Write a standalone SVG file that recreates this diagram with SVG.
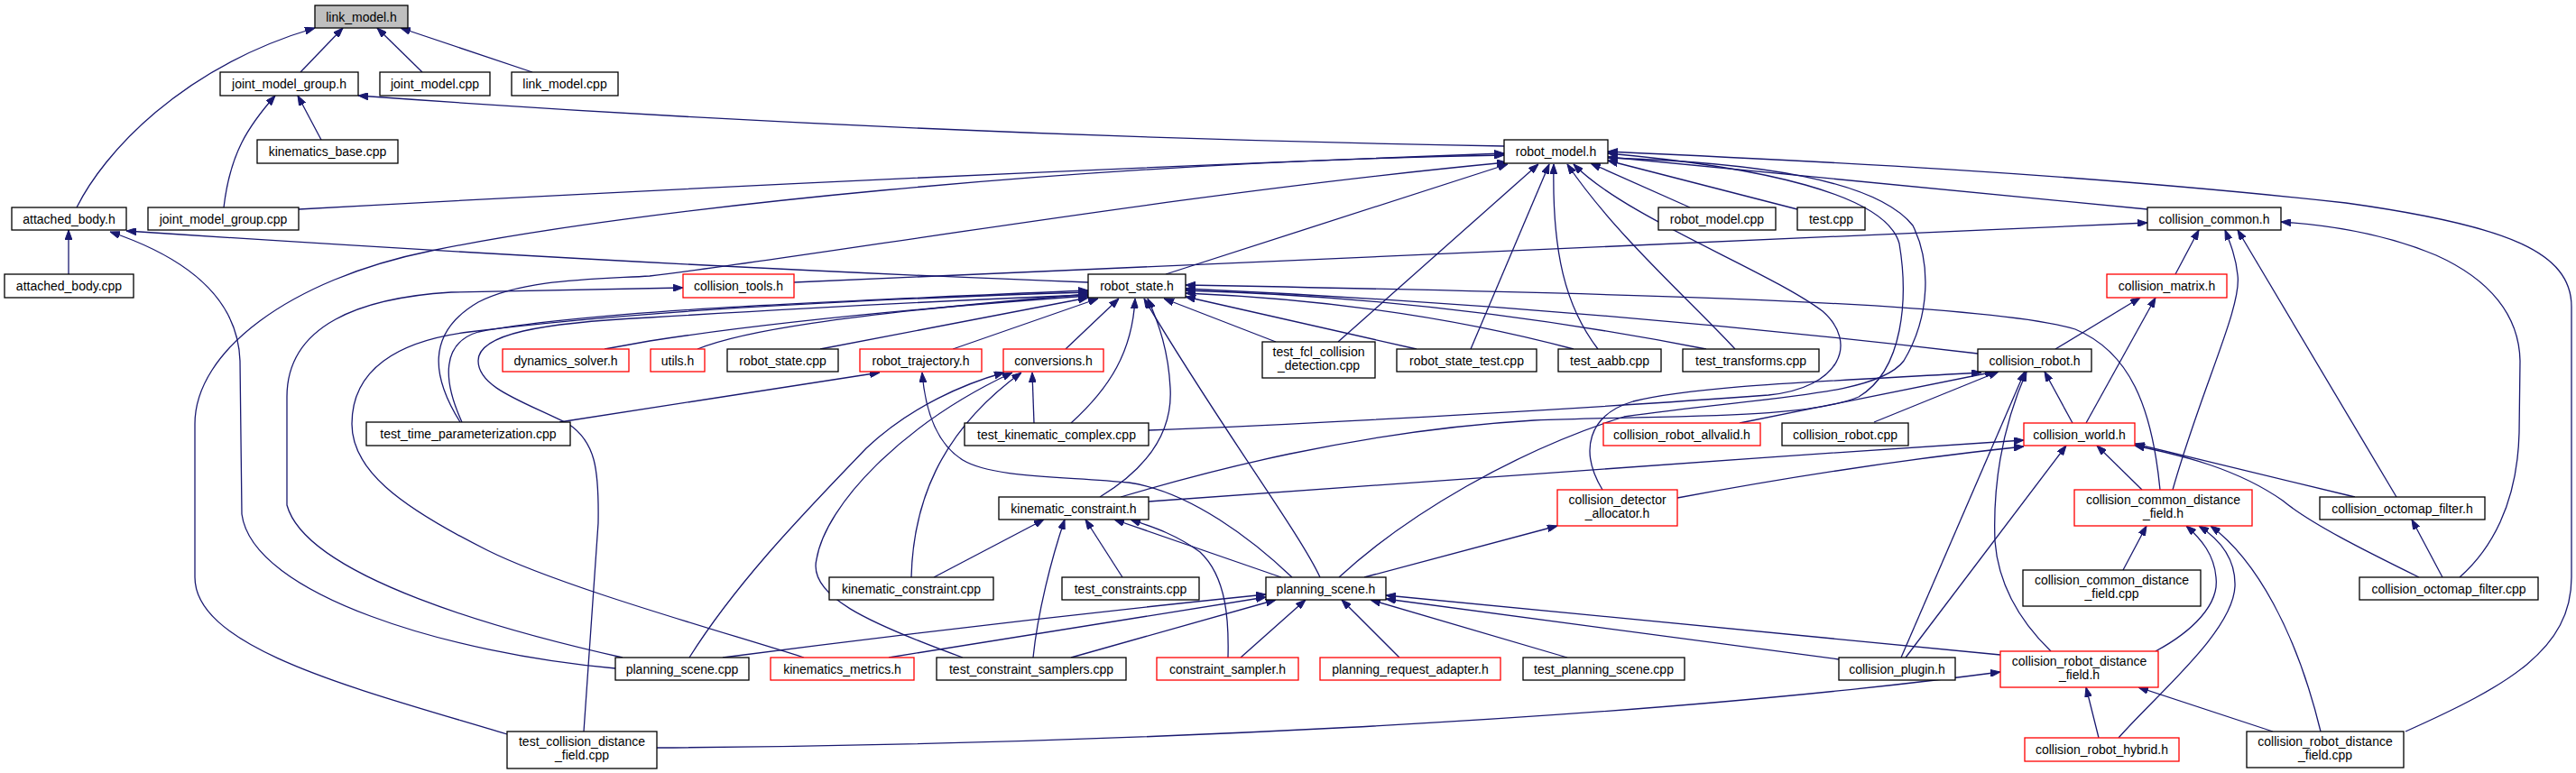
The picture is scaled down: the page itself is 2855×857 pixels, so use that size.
<svg xmlns="http://www.w3.org/2000/svg" width="2855" height="857" viewBox="0 0 2855 857">
<style>
.n rect{fill:#fff;stroke:#000;stroke-width:1.3}
.n.r rect{stroke:#ff0000}
.n.g rect{fill:#bfbfbf}
text{font-family:"Liberation Sans",Arial,sans-serif;font-size:14px;text-anchor:middle;fill:#000}
.e path{fill:none;stroke:#191970;stroke-width:1.3;marker-end:url(#a)}
</style>
<defs>
<marker id="a" viewBox="0 0 11 8" refX="11" refY="4" markerWidth="11" markerHeight="8" markerUnits="userSpaceOnUse" orient="auto" preserveAspectRatio="none"><path d="M0,0 L11,4 L0,8 z" fill="#191970" stroke="#191970" stroke-width="1"/></marker>
</defs>
<rect width="2855" height="857" fill="#fff"/>
<g id="edges" class="e">
<path d="M333,80 L380,31"/>
<path d="M468,80 L418,31"/>
<path d="M590,80 L444,31"/>
<path d="M85,230 C115,170 200,75 349,31"/>
<path d="M356,155 L330,106"/>
<path d="M248,230 C255,170 275,140 305,106"/>
<path d="M1667,162 Q1000,150 397,106"/>
<path d="M76,304 L76,255"/>
<path d="M1206,313 Q727,295 140,256"/>
<path d="M682,741 C500,725 280,660 268,570 L266,400 C264,340 220,290 122,257"/>
<path d="M331,232 Q1000,195 1667,170"/>
<path d="M562,814 C400,765 216,720 216,640 L216,470 C216,390 320,310 478,278 C700,232 1200,180 1667,172"/>
<path d="M510,468 C480,420 470,370 530,335 C580,310 650,310 720,306 C900,285 1300,215 1670,180"/>
<path d="M512,468 C490,420 490,380 530,368 C650,345 900,335 1206,322"/>
<path d="M1292,304 L1671,182"/>
<path d="M1483,379 L1705,182"/>
<path d="M1630,387 L1717,182"/>
<path d="M1771,387 C1735,340 1720,280 1722,182"/>
<path d="M1923,387 C1870,330 1790,260 1737,182"/>
<path d="M1273,477 C1500,468 1800,450 1960,438 C2040,430 2060,380 2020,345 C1960,300 1800,240 1744,182"/>
<path d="M1242,551 C1330,525 1500,478 1700,466 C1850,460 2000,465 2060,440 C2110,410 2115,330 2105,270 C2090,215 1950,185 1782,170"/>
<path d="M1484,640 C1560,570 1680,500 1800,462 C1950,440 2080,440 2110,400 C2140,350 2140,290 2120,250 C2080,200 1950,180 1782,175"/>
<path d="M1873,230 L1763,181"/>
<path d="M1992,232 L1782,178"/>
<path d="M2380,232 L1782,174"/>
<path d="M2666,811 C2780,760 2850,720 2850,640 L2850,340 C2850,280 2780,250 2600,225 C2300,192 2000,178 1782,168"/>
<path d="M880,313 Q1615,280 2380,247"/>
<path d="M690,729 C560,700 340,640 318,560 L318,440 C318,360 400,330 500,324 L757,319"/>
<path d="M764,729 C820,640 900,560 960,497 C1010,450 1070,425 1113,413"/>
<path d="M1067,729 C960,690 895,660 905,620 C915,560 1000,470 1122,413"/>
<path d="M1010,640 C1012,560 1040,480 1132,413"/>
<path d="M1146,469 L1144,413"/>
<path d="M1056,387 L1217,331"/>
<path d="M1181,387 L1240,331"/>
<path d="M1187,469 C1230,430 1255,390 1258,331"/>
<path d="M1219,551 C1270,520 1300,480 1297,430 C1295,390 1285,360 1272,331"/>
<path d="M1463,640 C1440,590 1350,470 1268,331"/>
<path d="M1414,379 L1290,331"/>
<path d="M1570,387 L1314,329"/>
<path d="M1744,387 Q1550,335 1314,325"/>
<path d="M1891,387 Q1600,330 1314,322"/>
<path d="M2192,392 Q1750,340 1314,320"/>
<path d="M2394,543 C2385,450 2360,390 2300,365 C2200,335 1800,325 1314,316"/>
<path d="M773,387 C820,368 920,350 1206,326"/>
<path d="M909,387 L1206,330"/>
<path d="M670,387 L720,378 Q900,350 1206,328"/>
<path d="M891,729 C800,700 620,650 540,610 C440,560 390,520 390,470 C390,410 440,378 520,368 C700,345 950,332 1206,324"/>
<path d="M647,811 L663,580 C664,520 660,490 630,470 C580,445 530,430 530,400 C530,370 600,358 720,352 Q1000,335 1206,327"/>
<path d="M620,468 L975,413"/>
<path d="M1432,640 C1390,600 1320,545 1251,535 C1180,528 1100,530 1067,510 C1035,490 1025,450 1022,413"/>
<path d="M1273,556 C1500,540 1900,510 2243,488"/>
<path d="M1859,552 C1950,535 2100,510 2243,495"/>
<path d="M1776,543 C1750,500 1760,460 1810,445 C1880,428 2000,424 2196,413"/>
<path d="M1928,469 L2211,412"/>
<path d="M2077,468 L2215,412"/>
<path d="M2297,469 L2266,412"/>
<path d="M2278,387 L2372,330"/>
<path d="M2312,469 L2389,330"/>
<path d="M2411,304 L2437,255"/>
<path d="M2408,543 C2440,430 2485,340 2480,305 C2478,285 2472,270 2466,255"/>
<path d="M2656,551 L2480,255"/>
<path d="M2726,640 C2760,610 2790,560 2792,480 L2793,400 C2792,350 2760,310 2700,283 C2650,262 2590,250 2528,246"/>
<path d="M2610,551 L2366,492"/>
<path d="M2681,640 C2620,610 2560,580 2530,555 C2480,520 2420,505 2366,494"/>
<path d="M2374,543 L2324,494"/>
<path d="M2107,729 L2244,412"/>
<path d="M2112,729 L2290,494"/>
<path d="M2273,722 C2240,690 2215,650 2211,600 C2208,520 2225,460 2246,412"/>
<path d="M2353,632 L2379,583"/>
<path d="M2389,722 C2430,700 2460,670 2456,640 C2454,615 2440,598 2423,583"/>
<path d="M2348,818 C2390,770 2475,700 2477,650 C2478,620 2460,598 2437,583"/>
<path d="M2572,811 C2545,700 2500,620 2450,583"/>
<path d="M2326,818 L2312,762"/>
<path d="M2519,811 L2370,762"/>
<path d="M728,829 C1200,826 1800,800 2217,745"/>
<path d="M2707,640 L2673,576"/>
<path d="M2038,731 L1536,664"/>
<path d="M2217,726 L1536,660"/>
<path d="M1737,729 L1519,665"/>
<path d="M1551,729 L1487,665"/>
<path d="M1375,729 L1447,665"/>
<path d="M1187,729 L1414,665"/>
<path d="M985,729 L1403,662"/>
<path d="M801,729 Q1100,690 1403,659"/>
<path d="M1512,640 L1726,583"/>
<path d="M1420,640 L1235,576"/>
<path d="M1035,640 L1157,576"/>
<path d="M1145,729 C1150,680 1165,620 1180,576"/>
<path d="M1244,640 L1203,576"/>
<path d="M1361,729 C1362,690 1360,640 1330,612 C1300,590 1270,582 1253,576"/>
</g>
<g id="n1" class="n g"><rect x="349" y="6" width="103" height="25"/><text x="400.5" y="24">link_model.h</text></g>
<g id="n2" class="n"><rect x="244" y="80" width="153" height="26"/><text x="320.5" y="98">joint_model_group.h</text></g>
<g id="n3" class="n"><rect x="421" y="80" width="122" height="26"/><text x="482" y="98">joint_model.cpp</text></g>
<g id="n4" class="n"><rect x="567" y="80" width="118" height="26"/><text x="626" y="98">link_model.cpp</text></g>
<g id="n5" class="n"><rect x="285" y="155" width="156" height="26"/><text x="363" y="173">kinematics_base.cpp</text></g>
<g id="n6" class="n"><rect x="1667" y="155" width="115" height="26"/><text x="1724.5" y="173">robot_model.h</text></g>
<g id="n7" class="n"><rect x="13" y="230" width="127" height="25"/><text x="76.5" y="248">attached_body.h</text></g>
<g id="n8" class="n"><rect x="164" y="230" width="167" height="25"/><text x="247.5" y="248">joint_model_group.cpp</text></g>
<g id="n9" class="n"><rect x="1838" y="230" width="130" height="25"/><text x="1903" y="248">robot_model.cpp</text></g>
<g id="n10" class="n"><rect x="1992" y="230" width="75" height="25"/><text x="2029.5" y="248">test.cpp</text></g>
<g id="n11" class="n"><rect x="2380" y="230" width="148" height="25"/><text x="2454" y="248">collision_common.h</text></g>
<g id="n12" class="n"><rect x="5" y="304" width="143" height="26"/><text x="76.5" y="322">attached_body.cpp</text></g>
<g id="n13" class="n r"><rect x="757" y="304" width="123" height="26"/><text x="818.5" y="322">collision_tools.h</text></g>
<g id="n14" class="n"><rect x="1206" y="304" width="108" height="26"/><text x="1260" y="322">robot_state.h</text></g>
<g id="n15" class="n r"><rect x="2335" y="304" width="133" height="26"/><text x="2401.5" y="322">collision_matrix.h</text></g>
<g id="n16" class="n"><rect x="1399" y="379" width="125" height="40"/><text x="1461.5" y="395">test_fcl_collision</text><text x="1461.5" y="410">_detection.cpp</text></g>
<g id="n17" class="n r"><rect x="557" y="387" width="140" height="25"/><text x="627" y="405">dynamics_solver.h</text></g>
<g id="n18" class="n r"><rect x="721" y="387" width="60" height="25"/><text x="751" y="405">utils.h</text></g>
<g id="n19" class="n"><rect x="806" y="387" width="123" height="25"/><text x="867.5" y="405">robot_state.cpp</text></g>
<g id="n20" class="n r"><rect x="953" y="387" width="135" height="25"/><text x="1020.5" y="405">robot_trajectory.h</text></g>
<g id="n21" class="n r"><rect x="1112" y="387" width="111" height="25"/><text x="1167.5" y="405">conversions.h</text></g>
<g id="n22" class="n"><rect x="1548" y="387" width="155" height="25"/><text x="1625.5" y="405">robot_state_test.cpp</text></g>
<g id="n23" class="n"><rect x="1727" y="387" width="114" height="25"/><text x="1784" y="405">test_aabb.cpp</text></g>
<g id="n24" class="n"><rect x="1865" y="387" width="151" height="25"/><text x="1940.5" y="405">test_transforms.cpp</text></g>
<g id="n25" class="n"><rect x="2192" y="387" width="126" height="25"/><text x="2255" y="405">collision_robot.h</text></g>
<g id="n26" class="n"><rect x="406" y="468" width="226" height="26"/><text x="519" y="486">test_time_parameterization.cpp</text></g>
<g id="n27" class="n"><rect x="1069" y="469" width="204" height="25"/><text x="1171" y="487">test_kinematic_complex.cpp</text></g>
<g id="n28" class="n r"><rect x="1777" y="469" width="174" height="25"/><text x="1864" y="487">collision_robot_allvalid.h</text></g>
<g id="n29" class="n"><rect x="1975" y="469" width="140" height="25"/><text x="2045" y="487">collision_robot.cpp</text></g>
<g id="n30" class="n r"><rect x="2243" y="469" width="123" height="25"/><text x="2304.5" y="487">collision_world.h</text></g>
<g id="n31" class="n r"><rect x="1726" y="543" width="133" height="40"/><text x="1792.5" y="559">collision_detector</text><text x="1792.5" y="574">_allocator.h</text></g>
<g id="n32" class="n"><rect x="1107" y="551" width="166" height="25"/><text x="1190" y="569">kinematic_constraint.h</text></g>
<g id="n33" class="n r"><rect x="2299" y="543" width="197" height="40"/><text x="2397.5" y="559">collision_common_distance</text><text x="2397.5" y="574">_field.h</text></g>
<g id="n34" class="n"><rect x="2571" y="551" width="183" height="25"/><text x="2662.5" y="569">collision_octomap_filter.h</text></g>
<g id="n35" class="n"><rect x="2242" y="632" width="197" height="40"/><text x="2340.5" y="648">collision_common_distance</text><text x="2340.5" y="663">_field.cpp</text></g>
<g id="n36" class="n"><rect x="919" y="640" width="182" height="25"/><text x="1010" y="658">kinematic_constraint.cpp</text></g>
<g id="n37" class="n"><rect x="1177" y="640" width="152" height="25"/><text x="1253" y="658">test_constraints.cpp</text></g>
<g id="n38" class="n"><rect x="1403" y="640" width="133" height="25"/><text x="1469.5" y="658">planning_scene.h</text></g>
<g id="n39" class="n"><rect x="2615" y="640" width="198" height="25"/><text x="2714" y="658">collision_octomap_filter.cpp</text></g>
<g id="n40" class="n"><rect x="682" y="729" width="148" height="25"/><text x="756" y="747">planning_scene.cpp</text></g>
<g id="n41" class="n r"><rect x="854" y="729" width="159" height="25"/><text x="933.5" y="747">kinematics_metrics.h</text></g>
<g id="n42" class="n"><rect x="1038" y="729" width="210" height="25"/><text x="1143" y="747">test_constraint_samplers.cpp</text></g>
<g id="n43" class="n r"><rect x="1282" y="729" width="157" height="25"/><text x="1360.5" y="747">constraint_sampler.h</text></g>
<g id="n44" class="n r"><rect x="1463" y="729" width="200" height="25"/><text x="1563" y="747">planning_request_adapter.h</text></g>
<g id="n45" class="n"><rect x="1688" y="729" width="179" height="25"/><text x="1777.5" y="747">test_planning_scene.cpp</text></g>
<g id="n46" class="n"><rect x="2038" y="729" width="129" height="25"/><text x="2102.5" y="747">collision_plugin.h</text></g>
<g id="n47" class="n r"><rect x="2217" y="722" width="175" height="40"/><text x="2304.5" y="738">collision_robot_distance</text><text x="2304.5" y="753">_field.h</text></g>
<g id="n48" class="n"><rect x="562" y="811" width="166" height="41"/><text x="645" y="827">test_collision_distance</text><text x="645" y="842">_field.cpp</text></g>
<g id="n49" class="n r"><rect x="2244" y="818" width="171" height="26"/><text x="2329.5" y="836">collision_robot_hybrid.h</text></g>
<g id="n50" class="n"><rect x="2490" y="811" width="174" height="40"/><text x="2577" y="827">collision_robot_distance</text><text x="2577" y="842">_field.cpp</text></g>
</svg>
